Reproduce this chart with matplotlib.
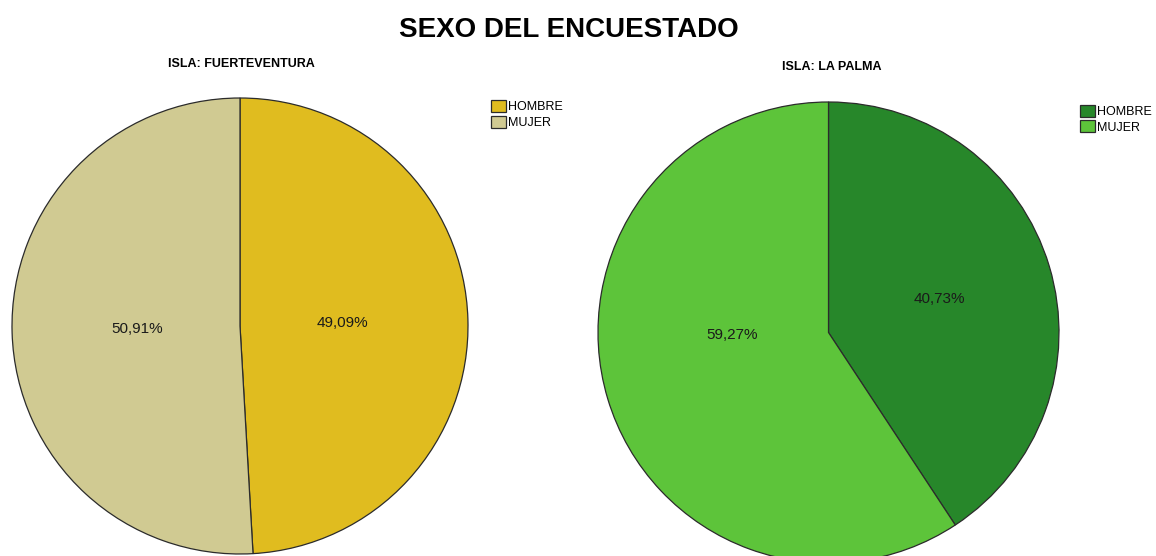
import matplotlib
matplotlib.use("Agg")
import matplotlib.pyplot as plt

# -------------------------------------------------
# Data
# -------------------------------------------------

TITULO = "SEXO DEL ENCUESTADO"
ISLAS = ["FUERTEVENTURA", "LA PALMA"]
CATEGORIAS = ["HOMBRE", "MUJER"]
FUERTEVENTURA_PCT = [49.09, 50.91]
LA_PALMA_PCT = [40.73, 59.27]

COLORES = {
    "FUERTEVENTURA": ["#e0bc1f", "#d0ca92"],
    "LA PALMA": ["#27872a", "#5dc43a"],
}

plt.rcParams["font.family"] = ["Liberation Sans", "DejaVu Sans"]

W, H = 1156, 556
fig = plt.figure(figsize=(W / 100, H / 100), dpi=100)


def px_axes(cx, cy, r):
    half = 1.01 * r
    return fig.add_axes([(cx - half) / W, (H - cy - half) / H, 2 * half / W, 2 * half / H])


def fmt(p):
    return f"{p:.2f}%".replace(".", ",")


# (center x, center y, radius, pctdistance, subtitle x, subtitle y, legend x, legend y)
LAYOUT = {
    "FUERTEVENTURA": (240, 326, 228, 0.45, 241, 64, 491, 100),
    "LA PALMA": (828.5, 332.5, 230.5, 0.50, 832, 67, 1080, 105),
}

for isla, valores in zip(ISLAS, [FUERTEVENTURA_PCT, LA_PALMA_PCT]):
    cx, cy, r, pdist, sx, sy, lx, ly = LAYOUT[isla]
    ax = px_axes(cx, cy, r)
    wedges, _, autotexts = ax.pie(
        valores,
        colors=COLORES[isla],
        startangle=90,
        counterclock=False,
        autopct=fmt,
        pctdistance=pdist,
        wedgeprops=dict(edgecolor="#2b2b2b", linewidth=0.9),
        textprops=dict(fontsize=11, color="#1a1a1a"),
    )
    if isla == "LA PALMA":
        autotexts[1].set_position((-0.42, -0.01))
    ax.set_xlim(-1.01, 1.01)
    ax.set_ylim(-1.01, 1.01)
    ax.set_aspect("equal")

    fig.text(sx / W, 1 - sy / H, f"ISLA: {isla}", ha="center", va="center",
             fontsize=9, fontweight="bold")

    fig.legend(
        wedges, CATEGORIAS,
        loc="upper left",
        bbox_to_anchor=(lx / W, 1 - ly / H),
        frameon=False,
        fontsize=9,
        borderpad=0,
        borderaxespad=0,
        handlelength=1.2,
        handleheight=1.1,
        handletextpad=0.15,
        labelspacing=0.18,
    )

fig.text(569 / W, 1 - 30 / H, TITULO, ha="center", va="center",
         fontsize=20, fontweight="bold")

fig.savefig("out.png", dpi=100)
